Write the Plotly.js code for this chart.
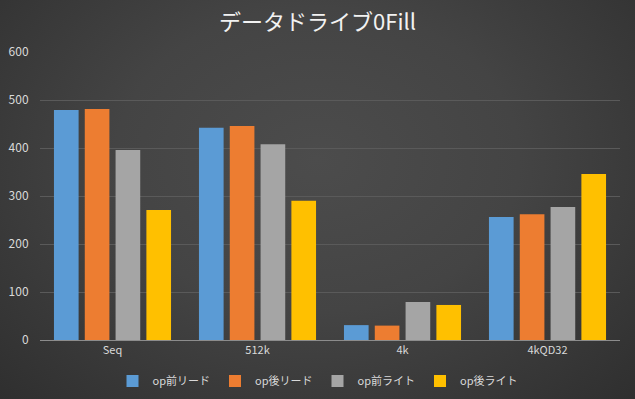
<!DOCTYPE html>
<html><head><meta charset="utf-8">
<script src="https://cdn.plot.ly/plotly-3.0.1.min.js"></script>
<style>html,body{margin:0;padding:0;background:#2e2e2e;}
#c{width:635px;height:399px;background:radial-gradient(ellipse at 50% 40%, #4c4c4c 0%, #444444 45%, #2f2f2f 100%);}</style>
</head><body><div id="c"></div>
<script>
const categories = ["Seq", "512k", "4k", "4kQD32"];
const seriesNames = ["op前リード", "op後リード", "op前ライト", "op後ライト"];
const readBefore = [479, 442, 31, 256];
const readAfter = [481, 446, 30, 262];
const writeBefore = [396, 408, 79, 277];
const writeAfter = [271, 290, 73, 346];
const colors = ["#5b9bd5", "#ed7d31", "#a5a5a5", "#ffc000"];
const values = [readBefore, readAfter, writeBefore, writeAfter];
const data = values.map((v, i) => ({
  type: "bar", x: categories, y: v, name: seriesNames[i],
  marker: {color: colors[i]}, hoverinfo: "none"
}));
const font = "Noto Sans CJK JP, sans-serif";
const layout = {
  width: 635, height: 399,
  paper_bgcolor: "rgba(0,0,0,0)", plot_bgcolor: "rgba(0,0,0,0)",
  margin: {l: 40, r: 15, t: 52, b: 59, autoexpand: false},
  title: {text: "データドライブ0Fill", x: 0.5, xanchor: "center", y: 0.945, yanchor: "middle",
    font: {family: font, size: 22, color: "#f2f2f2"}},
  barmode: "group", bargap: 0.15, bargroupgap: 0.2,
  xaxis: {showgrid: false, showline: true, linecolor: "#8c8c8c", linewidth: 1,
    tickfont: {family: font, size: 11, color: "#d9d9d9"}, ticks: "", automargin: false},
  yaxis: {range: [0, 600], dtick: 100, showgrid: true, gridcolor: "#5a5a5a", gridwidth: 1,
    zeroline: false, showline: false, ticks: "outside", ticklen: 8, tickcolor: "rgba(0,0,0,0)",
    automargin: false,
    tickfont: {family: font, size: 12, color: "#d9d9d9"}},
  legend: {orientation: "h", x: 0.5, xanchor: "center", xref: "container",
    y: 0.045, yanchor: "middle", yref: "container",
    font: {family: font, size: 11, color: "#d9d9d9"},
    itemwidth: 30, tracegroupgap: 0},
  showlegend: true
};
Plotly.newPlot("c", data, layout, {staticPlot: true});
</script></body></html>
